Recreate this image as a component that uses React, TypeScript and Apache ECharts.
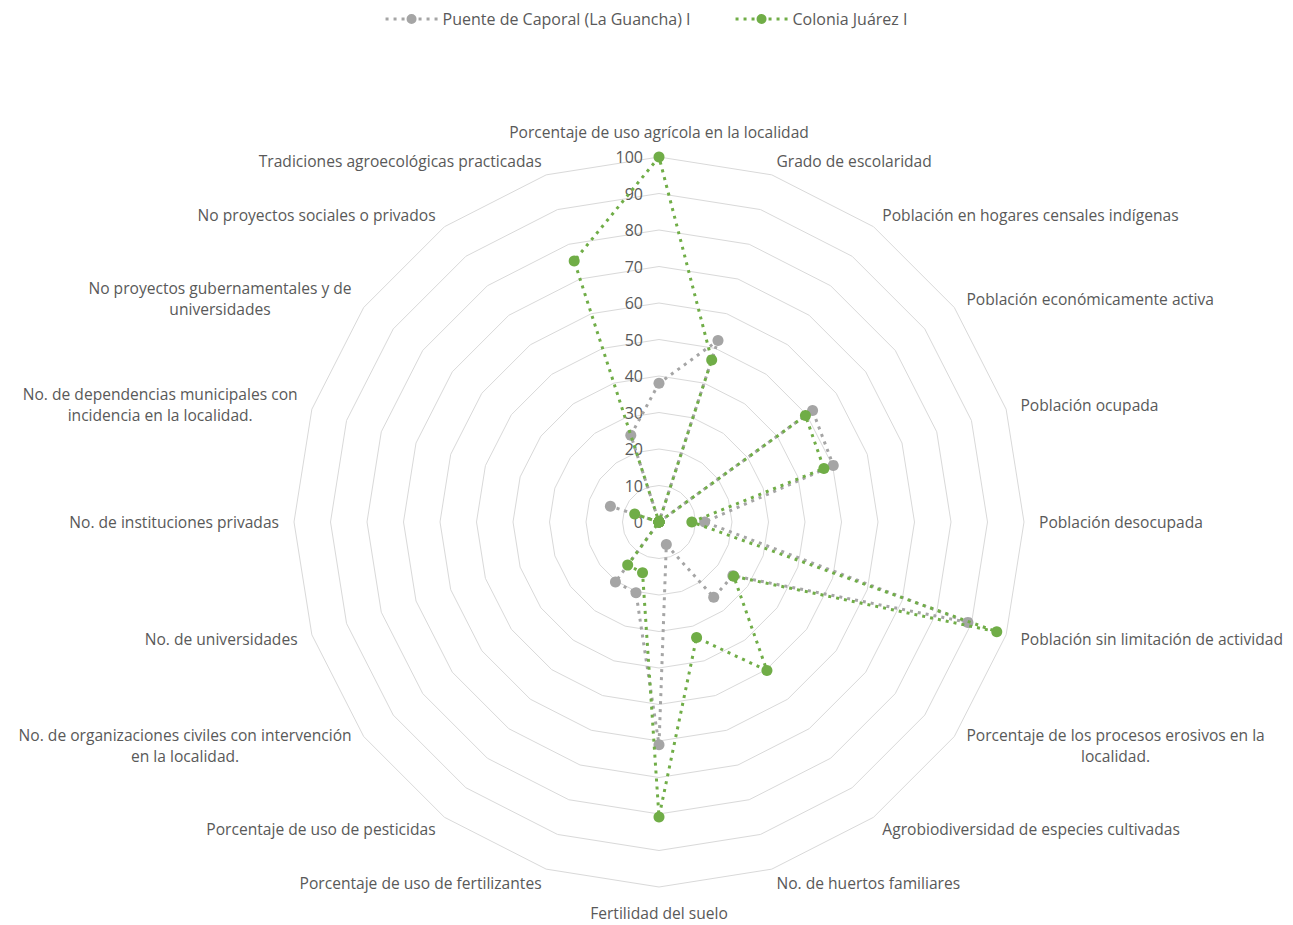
import React, { useEffect, useRef } from "react";
import * as echarts from "echarts";

// Indicators in clockwise order starting at the top
const indicatorNames: string[] = [
  "Porcentaje de uso agrícola en la localidad",
  "Grado de escolaridad",
  "Población en hogares censales indígenas",
  "Población económicamente activa",
  "Población ocupada",
  "Población desocupada",
  "Población sin limitación de actividad",
  "Porcentaje de los procesos erosivos en la\nlocalidad.",
  "Agrobiodiversidad de especies cultivadas",
  "No. de huertos familiares",
  "Fertilidad del suelo",
  "Porcentaje de uso de fertilizantes",
  "Porcentaje de uso de pesticidas",
  "No. de organizaciones civiles con intervención\nen la localidad.",
  "No. de universidades",
  "No. de instituciones privadas",
  "No. de dependencias municipales con\nincidencia en la localidad.",
  "No proyectos gubernamentales y de\nuniversidades",
  "No proyectos sociales o privados",
  "Tradiciones agroecológicas practicadas",
];

const seriesNames: string[] = ["Puente de Caporal (La Guancha) I", "Colonia Juárez I"];

const puenteValues: number[] = [38, 52.3, 0, 52, 50.2, 12.5, 89, 25, 25.5, 6.5, 61, 20.4, 20.3, 0, 0, 0, 14, 0, 0, 25];
const coloniaValues: number[] = [100, 46.7, 0, 49.6, 47.5, 9, 97.3, 25.3, 50.3, 33.3, 80.8, 14.6, 14.6, 0, 0, 0, 7, 0, 0, 75.2];

const axisMin = 0;
const axisMax = 100;
const axisStep = 10;

const seriesColors = ["#A5A5A5", "#70AD47"];

// ECharts radar lays indicators out counter-clockwise; reorder to get clockwise
const order: number[] = [0, ...indicatorNames.map((_, i) => indicatorNames.length - 1 - i).slice(0, indicatorNames.length - 1)];

// legend icon: dotted line with a round marker in the middle
const legendIcon =
  "path://M0 4h3v3h-3z M8 4h3v3h-3z M16 4h3v3h-3z M21 5.5a5 5 0 1 0 10 0a5 5 0 1 0 -10 0z M33 4h3v3h-3z M41 4h3v3h-3z M49 4h3v3h-3z";

export default function App() {
  const ref = useRef<HTMLDivElement>(null);
  useEffect(() => {
    const chart = echarts.init(ref.current as HTMLDivElement, null, { renderer: "svg" });
    const font = "Open Sans";
    const textColor = "#595959";
    const nameSize = 15.6;
    const valueSets = [puenteValues, coloniaValues];
    chart.setOption({
      animation: false,
      backgroundColor: "#ffffff",
      textStyle: { fontFamily: font },
      legend: {
        top: 6,
        left: "center",
        itemGap: 45,
        itemWidth: 52,
        itemHeight: 11,
        textStyle: { color: textColor, fontSize: 16, fontFamily: font },
        data: seriesNames.map((n, s) => ({ name: n, icon: legendIcon, itemStyle: { color: seriesColors[s] } })),
      },
      radar: {
        center: [659, 522],
        radius: 365,
        startAngle: 90,
        splitNumber: (axisMax - axisMin) / axisStep,
        shape: "polygon",
        nameGap: 15,
        axisName: {
          color: textColor,
          fontSize: nameSize,
          fontFamily: font,
          lineHeight: 21,
          formatter: (v: string) =>
            v.indexOf("\n") >= 0
              ? v
                  .split("\n")
                  .map((l) => "{c|" + l + "}")
                  .join("\n")
              : v,
          rich: {
            c: { align: "center", color: textColor, fontSize: nameSize, fontFamily: font, lineHeight: 21 },
          },
        },
        indicator: order.map((i) => ({ name: indicatorNames[i], min: axisMin, max: axisMax })),
        splitLine: { lineStyle: { color: "#D9D9D9", width: 1 } },
        splitArea: { show: false },
        axisLine: { show: false },
        axisTick: { show: false },
        axisLabel: { show: false },
      },
      polar: { center: [659, 522], radius: 365 },
      angleAxis: { type: "value", min: 0, max: 360, startAngle: 90, show: false },
      radiusAxis: {
        type: "value",
        min: axisMin,
        max: axisMax,
        interval: axisStep,
        axisLine: { show: false },
        axisTick: { show: false },
        splitLine: { show: false },
        axisLabel: { color: textColor, fontSize: 16, fontFamily: font, margin: 16 },
      },
      series: seriesNames.map((name, s) => ({
        type: "radar",
        name,
        symbol: "circle",
        symbolSize: 11,
        z: 2 + s,
        lineStyle: { color: seriesColors[s], width: 3, type: [3, 5], cap: "butt" },
        itemStyle: { color: seriesColors[s] },
        data: [{ name, value: order.map((i) => valueSets[s][i]) }],
      })),
    });
    return () => chart.dispose();
  }, []);
  return <div ref={ref} style={{ position: "absolute", left: 0, top: 0, width: 1293, height: 925 }} />;
}
